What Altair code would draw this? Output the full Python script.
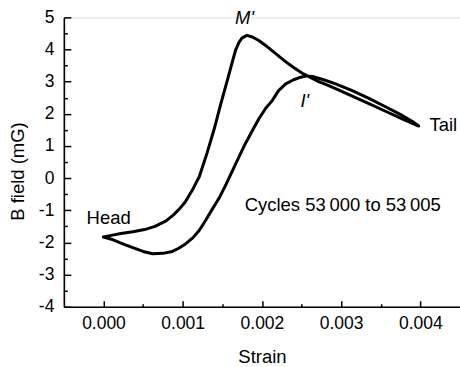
import altair as alt
import pandas as pd

FONT = "Liberation Sans"
W, H = 397, 290

# Outgoing branch (Head -> M' -> Tail)
strain_out = [0.0, 0.0001, 0.00022, 0.00037, 0.00052, 0.00065, 0.00079, 0.00088,
              0.00095, 0.00103, 0.00112, 0.00121, 0.00131, 0.0014, 0.00148, 0.00157,
              0.00163, 0.00167, 0.00171, 0.00175, 0.00181, 0.00188, 0.00196, 0.00206,
              0.00217, 0.00229, 0.0024, 0.00251, 0.00258, 0.0027, 0.00282, 0.00293,
              0.00314, 0.00335, 0.00356, 0.00377, 0.0039, 0.00398]
b_out = [-1.83, -1.78, -1.72, -1.67, -1.60, -1.50, -1.33, -1.15,
         -0.98, -0.75, -0.38, 0.05, 0.80, 1.55, 2.30, 3.10,
         3.65, 4.00, 4.22, 4.36, 4.44, 4.39, 4.28, 4.10,
         3.88, 3.64, 3.44, 3.26, 3.17, 3.02, 2.90, 2.78,
         2.55, 2.32, 2.08, 1.84, 1.70, 1.62]

# Return branch (Tail -> I' -> Head)
strain_back = [0.0039, 0.00377, 0.00356, 0.00335, 0.00314, 0.00293, 0.00278, 0.00266,
               0.00257, 0.00249, 0.0024, 0.0023, 0.00221, 0.00213, 0.00205, 0.00196,
               0.00188, 0.00179, 0.00171, 0.00163, 0.00155, 0.00146, 0.00137, 0.00129,
               0.00121, 0.00113, 0.00104, 0.00095, 0.00087, 0.00075, 0.00062, 0.0005,
               0.00037, 0.00022, 0.0001, 0.0]
b_back = [1.76, 1.95, 2.22, 2.48, 2.72, 2.93, 3.06, 3.15,
          3.18, 3.14, 3.06, 2.93, 2.72, 2.41, 2.18, 1.84,
          1.48, 1.07, 0.66, 0.24, -0.18, -0.62, -0.98, -1.31,
          -1.62, -1.85, -2.04, -2.18, -2.28, -2.34, -2.35, -2.28,
          -2.16, -2.02, -1.90, -1.83]

x_major = [0.0, 0.001, 0.002, 0.003, 0.004]
x_minor = [0.0005, 0.0015, 0.0025, 0.0035]
y_major = [-4, -3, -2, -1, 0, 1, 2, 3, 4, 5]
y_minor = [-3.5, -2.5, -1.5, -0.5, 0.5, 1.5, 2.5, 3.5, 4.5]

italic_text = ["M'", "I'"]
italic_x = [0.00178, 0.00254]
italic_y = [4.98, 2.41]

plain_text = ["Head", "Tail", "Cycles 53\u2009000 to 53\u2009005"]
plain_x = [0.000065, 0.00429, 0.00302]
plain_y = [-1.23, 1.64, -0.83]

df = pd.DataFrame({"strain": strain_out + strain_back, "b": b_out + b_back})
df["i"] = range(len(df))
ann_i = pd.DataFrame({"t": italic_text, "x": italic_x, "y": italic_y})
ann_p = pd.DataFrame({"t": plain_text, "x": plain_x, "y": plain_y})

xs = alt.Scale(domain=[-0.0005, 0.0045], nice=False, zero=False)
ys = alt.Scale(domain=[-4, 5], nice=False, zero=False)

curve = alt.Chart(df).mark_line(
    color="black", strokeWidth=3, strokeJoin="round", strokeCap="round"
).encode(
    x=alt.X("strain:Q", scale=xs, axis=alt.Axis(
        orient="bottom", values=x_major, format=".3f", ticks=False, grid=False,
        domainColor="black", domainWidth=1.6, labelFont=FONT, labelFontSize=17.5,
        labelColor="black", labelPadding=8, title="Strain", titleFont=FONT,
        titleFontSize=18.5, titleFontWeight="normal", titleColor="black",
        titleY=50, titleBaseline="middle")),
    y=alt.Y("b:Q", scale=ys, axis=alt.Axis(
        orient="left", values=y_major, labelExpr="'' + datum.value", ticks=False,
        grid=False, domainColor="black", domainWidth=1.6, labelFont=FONT,
        labelFontSize=17.5, labelColor="black", labelPadding=10,
        title="B field (mG)", titleFont=FONT, titleFontSize=18.5,
        titleFontWeight="normal", titleColor="black", titleX=-46, titleY=154,
        titleAngle=270, titleBaseline="middle", titleAlign="center")),
    order="i:Q",
)

def tick_layer(xv, yv, xsize, ysize):
    return alt.Chart(df).mark_line(opacity=0).encode(
        x=alt.X("strain:Q", scale=xs, axis=alt.Axis(
            orient="top", offset=-H, values=xv, labels=False, domain=False,
            grid=False, tickSize=xsize, tickWidth=1.5, tickColor="black", title=None)),
        y=alt.Y("b:Q", scale=ys, axis=alt.Axis(
            orient="right", offset=-W, values=yv, labels=False, domain=False,
            grid=False, tickSize=ysize, tickWidth=1.5, tickColor="black", title=None)),
        order="i:Q",
    )

major = tick_layer(x_major, y_major, 6, 7)
minor = tick_layer(x_minor, y_minor, 3, 3.5)

txt_i = alt.Chart(ann_i).mark_text(
    font=FONT, fontSize=18.5, fontStyle="italic", color="black",
    align="center", baseline="middle"
).encode(
    x=alt.X("x:Q", scale=xs, axis=None),
    y=alt.Y("y:Q", scale=ys, axis=None),
    text="t:N",
)

txt_p = alt.Chart(ann_p).mark_text(
    font=FONT, fontSize=18.5, color="black", align="center", baseline="middle"
).encode(
    x=alt.X("x:Q", scale=xs, axis=None),
    y=alt.Y("y:Q", scale=ys, axis=None),
    text="t:N",
)

chart = alt.layer(curve, major, minor, txt_i, txt_p).resolve_axis(
    x="independent", y="independent"
).properties(
    width=W, height=H,
    autosize=alt.AutoSizeParams(type="none"),
    padding={"left": 64, "top": 17, "right": 0, "bottom": 60},
).configure_view(strokeOpacity=0).configure(font=FONT)

chart.save("out.html", embed_options={"renderer": "svg", "actions": False})
